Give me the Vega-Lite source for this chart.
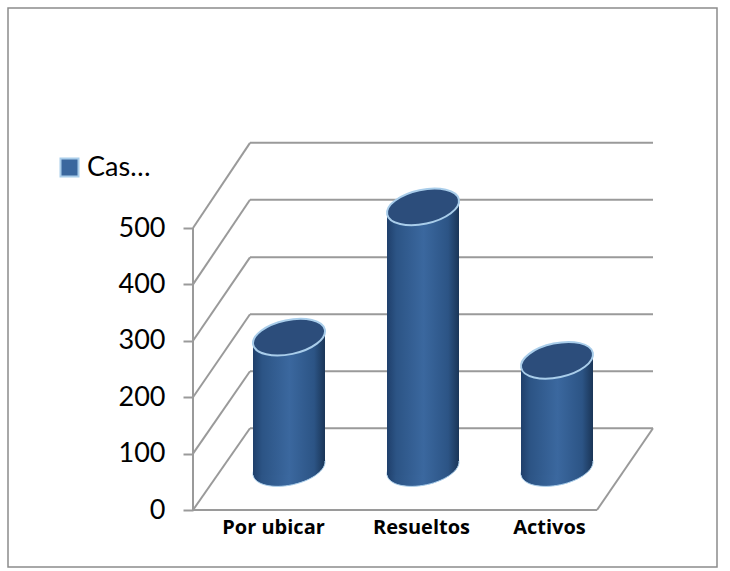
{
"$schema":"https://vega.github.io/schema/vega-lite/v6.json",
"width":709,"height":559,
"autosize":{"type":"none"},
"padding":{"left":8,"top":8,"right":13,"bottom":4},
"background":"white",
"config":{"view":{"stroke":"#8c8c8c","strokeWidth":1.5},"font":"Lato"},
"datasets":{
"casos":[{"categoria":"Por ubicar","casos":232,"serie":"Casos"},{"categoria":"Resueltos","casos":463,"serie":"Casos"},{"categoria":"Activos","casos":191,"serie":"Casos"}],
"marco":[
{"x":0,"x2":0,"y":0,"y2":500},
{"x":0,"x2":404,"y":0,"y2":0},
{"x":404,"x2":460,"y":0,"y2":145},
{"x":0,"x2":57,"y":0,"y2":145},
{"x":0,"x2":57,"y":100,"y2":246},
{"x":0,"x2":57,"y":200,"y2":347},
{"x":0,"x2":57,"y":300,"y2":448},
{"x":0,"x2":57,"y":400,"y2":550},
{"x":0,"x2":57,"y":500,"y2":651},
{"x":57,"x2":460,"y":145,"y2":145},
{"x":57,"x2":460,"y":246,"y2":246},
{"x":57,"x2":460,"y":347,"y2":347},
{"x":57,"x2":460,"y":448,"y2":448},
{"x":57,"x2":460,"y":550,"y2":550},
{"x":57,"x2":460,"y":651,"y2":651}
]},
"layer":[
{"data":{"name":"marco"},
"mark":{"type":"rule","color":"#9a9a9a","strokeWidth":2},
"encoding":{
"x":{"field":"x","type":"quantitative","scale":{"domain":[-185,524]},"axis":null},
"x2":{"field":"x2"},
"y":{"field":"y","type":"quantitative","scale":{"domain":[-101.06,890.07]},
"axis":{"orient":"left","offset":-185,"values":[0,100,200,300,400,500],"title":null,"grid":false,"domain":false,"tickColor":"#9a9a9a","tickWidth":2,"tickSize":10,"labelFontSize":27,"labelFont":"Lato","labelColor":"#000000","labelPadding":18}},
"y2":{"field":"y2"}}},
{"data":{"name":"casos"},
"mark":{"type":"point","filled":true,"opacity":1,"shape":"M-0.995,0.211 A1.017,0.474 -12 1 1 0.995,-0.211 A1.017,0.474 -12 1 1 -0.995,0.211 Z","size":5184,"strokeWidth":1,"stroke":"#a9cdea",
"fill":{"gradient":"linear","x1":0,"x2":1,"y1":0,"y2":0,"stops":[{"offset":0,"color":"#1f3f6b"},{"offset":0.12,"color":"#2c5485"},{"offset":0.5,"color":"#3b689f"},{"offset":0.85,"color":"#2c5485"},{"offset":1,"color":"#1a3557"}]}},
"encoding":{
"x":{"field":"categoria","type":"nominal","sort":null,"scale":{"type":"point","padding":0,"domain":["Por ubicar","Resueltos","Activos"],"range":[281,549]},"axis":null},
"y":{"datum":0,"type":"quantitative","scale":{"domain":[-175.5,815.6]},"axis":null}}},
{"data":{"name":"casos"},
"mark":{"type":"bar","width":37,"xOffset":-17.5,"yOffset":7,"y2Offset":7,
"fill":{"gradient":"linear","x1":0,"x2":1,"y1":0,"y2":0,"stops":[{"offset":0,"color":"#1f3f6b"},{"offset":0.25,"color":"#2c5485"},{"offset":1,"color":"#3b689f"}]}},
"encoding":{
"x":{"field":"categoria","type":"nominal","sort":null,"scale":{"type":"point","padding":0,"domain":["Por ubicar","Resueltos","Activos"],"range":[281,549]},
"axis":{"orient":"bottom","offset":-57,"title":null,"domain":false,"ticks":false,"labelAngle":0,"labelFontSize":20,"labelFontWeight":"bold","labelFont":"Open Sans","labelColor":"#000000","labelPadding":7,"labelOffset":{"condition":[{"test":"datum.value==='Por ubicar'","value":-16},{"test":"datum.value==='Activos'","value":-8}],"value":-2}}},
"y":{"field":"casos","type":"quantitative","scale":{"domain":[-175.5,815.6]},"axis":null},
"y2":{"datum":0}}},
{"data":{"name":"casos"},
"mark":{"type":"bar","width":36,"xOffset":18,"yOffset":-7,"y2Offset":-7,
"fill":{"gradient":"linear","x1":0,"x2":1,"y1":0,"y2":0,"stops":[{"offset":0,"color":"#3b689f"},{"offset":0.7,"color":"#2c5485"},{"offset":1,"color":"#1a3557"}]}},
"encoding":{
"x":{"field":"categoria","type":"nominal","sort":null,"scale":{"type":"point","padding":0,"domain":["Por ubicar","Resueltos","Activos"],"range":[281,549]},"axis":null},
"y":{"field":"casos","type":"quantitative","scale":{"domain":[-175.5,815.6]},"axis":null},
"y2":{"datum":0}}},
{"data":{"name":"casos"},
"mark":{"type":"point","filled":true,"opacity":1,"shape":"M-0.995,0.211 A1.017,0.474 -12 1 1 0.995,-0.211 A1.017,0.474 -12 1 1 -0.995,0.211 Z","size":5184,"strokeWidth":2,"stroke":"#a9cdea","fill":"#2c4d7b"},
"encoding":{
"x":{"field":"categoria","type":"nominal","sort":null,"scale":{"type":"point","padding":0,"domain":["Por ubicar","Resueltos","Activos"],"range":[281,549]},"axis":null},
"y":{"field":"casos","type":"quantitative","scale":{"domain":[-175.5,815.6]},"axis":null}}},
{"data":{"name":"casos"},
"mark":{"type":"point","filled":true,"size":0,"opacity":1},
"encoding":{
"x":{"field":"categoria","type":"nominal","sort":null,"scale":{"type":"point","padding":0,"domain":["Por ubicar","Resueltos","Activos"],"range":[281,549]},"axis":null},
"y":{"field":"casos","type":"quantitative","scale":{"domain":[-175.5,815.6]},"axis":null},
"color":{"field":"serie","type":"nominal","scale":{"range":["#3a679e"]},
"legend":{"orient":"none","legendX":48,"legendY":146,"title":null,"symbolType":"square","symbolSize":324,"symbolStrokeColor":"#a9cdea","symbolStrokeWidth":2,"labelFontSize":27,"labelFont":"Lato","labelColor":"#000000","labelLimit":66,"labelOffset":4}}}}
],
"resolve":{"scale":{"x":"independent","y":"independent"}}
}
